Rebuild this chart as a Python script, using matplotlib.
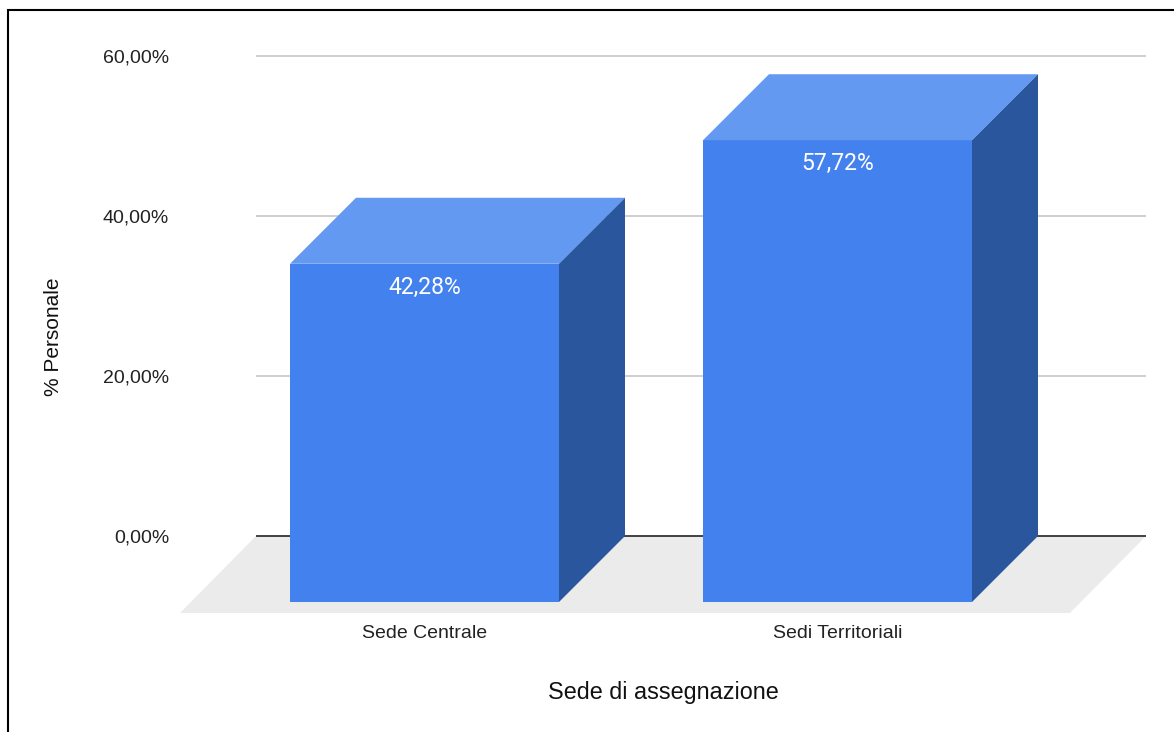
import matplotlib.pyplot as plt
from matplotlib.patches import Polygon, Rectangle

# data
categories = ["Sede Centrale", "Sedi Territoriali"]
values = [42.28, 57.72]
value_labels = ["42,28%", "57,72%"]
yticks = [0, 20, 40, 60]
ytick_labels = ["0,00%", "20,00%", "40,00%", "60,00%"]

# colours
front_c = "#4381EE"
top_c = "#6499F2"
side_c = "#2A569D"
floor_c = "#EBEBEB"

plt.rcParams['font.family'] = ['Liberation Sans', 'DejaVu Sans']

fig = plt.figure(figsize=(11.74, 7.32), dpi=100)
W, H = 1174.0, 732.0

# axes placed in pixel terms: x 175..1160, y 40..620 (from top)
ax = fig.add_axes([175 / W, (H - 620) / H, (1160 - 175) / W, (620 - 40) / H])

px_per_x = 413.0   # pixels per category unit
px_per_y = 8.0     # pixels per percent
x0_px, y0_px = 424.5, 536.0
ax.set_xlim((175 - x0_px) / px_per_x, (1160 - x0_px) / px_per_x)
ax.set_ylim((y0_px - 620) / px_per_y, (y0_px - 40) / px_per_y)

# 3d depth (bars) and floor depth
dx = 66 / px_per_x
dy = 66 / px_per_y
fdx = 76 / px_per_x
fdy = 77 / px_per_y
w = 269 / px_per_x

back_l = (256 - x0_px) / px_per_x
back_r = (1146 - x0_px) / px_per_x

# floor
floor = Polygon([(back_l - fdx, -fdy), (back_r - fdx, -fdy), (back_r, 0), (back_l, 0)],
                closed=True, facecolor=floor_c, edgecolor='none', zorder=1)
ax.add_patch(floor)

# gridlines on back plane
for t in yticks[1:]:
    ax.plot([back_l, back_r], [t, t], color="#CCCCCC", lw=1.3, zorder=2, solid_capstyle='butt')
ax.plot([back_l, back_r], [0, 0], color="#333333", lw=1.3, zorder=2, solid_capstyle='butt')

# bars
for i, v in enumerate(values):
    xl, xr = i - w / 2, i + w / 2
    ax.add_patch(Polygon([(xl, -dy), (xr, -dy), (xr, v - dy), (xl, v - dy)],
                         closed=True, facecolor=front_c, edgecolor='none', zorder=5))
    ax.add_patch(Polygon([(xl, v - dy), (xr, v - dy), (xr + dx, v), (xl + dx, v)],
                         closed=True, facecolor=top_c, edgecolor='none', zorder=5))
    ax.add_patch(Polygon([(xr, -dy), (xr + dx, 0), (xr + dx, v), (xr, v - dy)],
                         closed=True, facecolor=side_c, edgecolor='none', zorder=5))
    ax.annotate(value_labels[i], xy=(i, v - dy), xytext=(0, -8.5), textcoords='offset points',
                ha='center', va='top', color='white', fontsize=16.6, family=['Roboto', 'DejaVu Sans'],
                zorder=6)

# ticks
ax.set_xticks(range(len(categories)))
ax.set_xticklabels(categories, fontsize=14, color="#222222")
ax.set_yticks(yticks)
ax.set_yticklabels(ytick_labels, fontsize=14, color="#222222")
ax.tick_params(axis='x', length=0, pad=3.5)
ax.tick_params(axis='y', length=0, pad=4.3)
for s in ax.spines.values():
    s.set_visible(False)
ax.set_facecolor('none')

ax.set_xlabel("Sede di assegnazione", fontsize=16.8, color="#111111")
ax.xaxis.set_label_coords((663 - 175) / 985.0, -(681 - 620) / 580.0)
ax.set_ylabel("% Personale", fontsize=15, color="#111111", va='center')
ax.yaxis.set_label_coords((54 - 175) / 985.0, (620 - 337) / 580.0)

# outer frame (left and top only visible)
fig.patches.append(Rectangle((8 / W, -0.1), 1.2, (H - 10) / H + 0.1, transform=fig.transFigure,
                             fill=False, edgecolor='black', lw=1.5, zorder=10))

fig.savefig("out.png", dpi=100)
